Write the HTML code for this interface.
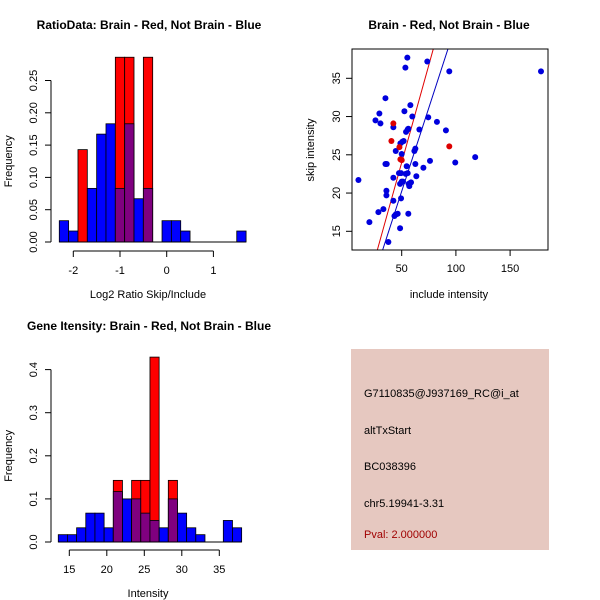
<!DOCTYPE html>
<html><head><meta charset="utf-8"><style>
body{margin:0;background:#fff}
svg{display:block;font-family:"Liberation Sans",sans-serif}
</style></head><body>
<svg id="c" width="600" height="600" viewBox="0 0 600 600" xmlns="http://www.w3.org/2000/svg">
<rect width="600" height="600" fill="#fff"/>
<text x="149" y="29" text-anchor="middle" font-weight="bold" font-size="12">RatioData: Brain - Red, Not Brain - Blue</text>
<text x="449" y="29" text-anchor="middle" font-weight="bold" font-size="12">Brain - Red, Not Brain - Blue</text>
<text x="149" y="330" text-anchor="middle" font-weight="bold" font-size="12">Gene Itensity: Brain - Red, Not Brain - Blue</text>
<g id="p1"></g>
<g id="p2"></g>
<g id="p3"></g>
<g>
<rect x="351" y="349" width="198" height="201" fill="#e6c8c0"/>
<text x="364" y="397" font-size="11">G7110835@J937169_RC@i_at</text>
<text x="364" y="434" font-size="11">altTxStart</text>
<text x="364" y="470" font-size="11">BC038396</text>
<text x="364" y="507" font-size="11">chr5.19941-3.31</text>
<text x="364" y="538" font-size="11" fill="#a00000">Pval: 2.000000</text>
</g>
</svg>
<script>
const NS="http://www.w3.org/2000/svg";
// ratio histogram data
const ratioBinStart=-2.3, ratioBinWidth=0.2;
const ratioBlue=[0.033,0.017,0,0.083,0.167,0.183,0.083,0.183,0.067,0.083,0,0.033,0.033,0.017,0,0,0,0,0,0.017];
const ratioRed=[0,0,0.143,0,0,0,0.286,0.286,0,0.286,0,0,0,0,0,0,0,0,0,0];
const ratioXTicks=[-2,-1,0,1];
const ratioYTicks=[0,0.05,0.10,0.15,0.20,0.25];
const ratioYLabels=["0.00","0.05","0.10","0.15","0.20","0.25"];
// intensity histogram data
const intBinStart=13.53, intBinWidth=1.2225;
const intBlue=[0.017,0.017,0.033,0.067,0.067,0.033,0.117,0.1,0.1,0.067,0.05,0.033,0.1,0.067,0.033,0.017,0,0,0.05,0.033];
const intRed=[0,0,0,0,0,0,0.143,0,0.143,0.143,0.429,0,0.143,0,0,0,0,0,0,0];
const intXTicks=[15,20,25,30,35];
const intYTicks=[0,0.1,0.2,0.3,0.4];
const intYLabels=["0.0","0.1","0.2","0.3","0.4"];
// scatter data
const blueX=[10.1,20.2,25.8,29.4,30.4,28.5,33.1,35,35,36.2,35.9,35.9,37.7,42.3,42.3,42.3,43.3,44.5,46.3,44.5,48.5,47.5,49.4,48.5,50,51.2,49.4,50,48.8,50.6,51.8,52.5,53.4,55.2,54,55.5,56.1,54.6,55.5,53.7,56.4,57.7,57,58.6,56.1,58,59.8,61.7,62.6,62.6,63.5,66.3,70,73.6,74.5,76.1,82.5,90.8,93.9,99.4,117.8,178.5];
const blueY=[21.7,16.2,29.5,30.4,29.1,17.5,17.9,32.4,23.8,23.8,20.3,19.7,13.6,28.6,22,19,17,17.2,17.3,25.5,15.4,22.6,22.6,21.2,21.5,21.5,19.3,25.1,26.5,26.7,26.8,30.7,36.4,37.7,28,28.3,28.4,23.5,22.6,22.5,21.2,21.3,20.9,21.4,17.3,31.5,30,25.5,25.8,23.8,22.2,28.3,23.3,37.2,29.9,24.2,29.3,28.2,35.9,24,24.7,35.9];
const redX=[42.3,40.5,47.9,48.8,50,93.9];
const redY=[29.1,26.8,26,24.4,24.3,26.1];
const redFit=[-1.45,0.509]; // intercept, slope
const blueFit=[-1.57,0.436];
const scXTicks=[50,100,150];
const scYTicks=[15,20,25,30,35];

function mk(tag,attrs,parent){const e=document.createElementNS(NS,tag);for(const k in attrs)e.setAttribute(k,attrs[k]);parent.appendChild(e);return e;}
function txt(parent,x,y,s,anchor,rot){const t=mk('text',{x:x,y:y,'font-size':11,'text-anchor':anchor||'middle'},parent);if(rot)t.setAttribute('transform','rotate(-90 '+x+' '+y+')');t.textContent=s;return t;}

function hist(g,o){
  const X=v=>o.x0+(v-o.xv0)*o.xs, Y=v=>o.y0-v*o.ys;
  for(let i=0;i<o.blue.length;i++){
    const a=o.start+i*o.w,b=a+o.w,r=o.red[i],bl=o.blue[i];
    if(r>0){const e=mk('rect',{x:X(a),y:Y(r),width:X(b)-X(a),height:Y(0)-Y(r),fill:'#ff0000',stroke:'#000','stroke-width':0.8},g);
      }
    if(bl>0){const e=mk('rect',{x:X(a),y:Y(bl),width:X(b)-X(a),height:Y(0)-Y(bl),fill:r>0?'#7f007f':'#0000ff',stroke:'#000','stroke-width':0.8},g);
      }
  }
  mk('line',{x1:X(o.start),x2:X(o.start+o.blue.length*o.w),y1:Y(0),y2:Y(0),stroke:'#000'},g);
  const ya=mk('g',{},g);
  mk('line',{x1:o.ax,x2:o.ax,y1:Y(o.yt[0]),y2:Y(o.yt[o.yt.length-1]),stroke:'#000'},ya);
  o.yt.forEach((v,i)=>{mk('line',{x1:o.ax-6,x2:o.ax,y1:Y(v),y2:Y(v),stroke:'#000'},ya);txt(ya,o.ax-14,Y(v),o.yl[i],'middle',true);});
  const xa=mk('g',{},g);
  mk('line',{x1:X(o.xt[0]),x2:X(o.xt[o.xt.length-1]),y1:o.ay,y2:o.ay,stroke:'#000'},xa);
  o.xt.forEach(v=>{mk('line',{x1:X(v),x2:X(v),y1:o.ay,y2:o.ay+6,stroke:'#000'},xa);txt(xa,X(v),o.ay+23,String(v));});
  const xt=txt(g,148,o.ay+47,o.xlab);
  const yt=txt(g,12,(o.y0+Y(o.yt[o.yt.length-1]))/2,'Frequency','middle',true);
}
hist(document.getElementById('p1'),{blue:ratioBlue,red:ratioRed,start:ratioBinStart,w:ratioBinWidth,x0:120,xv0:-1,xs:46.7,y0:242,ys:646,ax:51,ay:251,xt:ratioXTicks,yt:ratioYTicks,yl:ratioYLabels,xlab:'Log2 Ratio Skip/Include'});
hist(document.getElementById('p3'),{blue:intBlue,red:intRed,start:intBinStart,w:intBinWidth,x0:69.3,xv0:15,xs:7.5,y0:542,ys:431,ax:51,ay:550,xt:intXTicks,yt:intYTicks,yl:intYLabels,xlab:'Intensity'});

(function(){
  const g=document.getElementById('p2');
  const L=352,R=548,T=49,B=250;
  const X=v=>401.7+(v-50)*1.084, Y=v=>78.3-(v-35)*7.65;
  const cp=mk('clipPath',{id:'clp'},g);mk('rect',{x:L,y:T,width:R-L,height:B-T},cp);
  const fits=[[redFit,'#e00000','red-fit-line'],[blueFit,'#0000c0','blue-fit-line']];
  fits.forEach(f=>{const y1=12,y2=40;const x1=(y1-f[0][0])/f[0][1],x2=(y2-f[0][0])/f[0][1];
    const e=mk('line',{x1:X(x1),y1:Y(y1),x2:X(x2),y2:Y(y2),stroke:f[1],'stroke-width':1,'clip-path':'url(#clp)'},g);
    });
  blueX.forEach((v,i)=>{const e=mk('circle',{cx:X(v),cy:Y(blueY[i]),r:3,fill:'#0000dd'},g);
    });
  redX.forEach((v,i)=>{const e=mk('circle',{cx:X(v),cy:Y(redY[i]),r:3,fill:'#dd0000'},g);
    });
  mk('rect',{x:L,y:T,width:R-L,height:B-T,fill:'none',stroke:'#000'},g);
  const xa=mk('g',{},g);
  scXTicks.forEach(v=>{mk('line',{x1:X(v),x2:X(v),y1:B,y2:B+6,stroke:'#000'},xa);txt(xa,X(v),B+22,String(v));});
  const ya=mk('g',{},g);
  scYTicks.forEach(v=>{mk('line',{x1:L-6,x2:L,y1:Y(v),y2:Y(v),stroke:'#000'},ya);txt(ya,L-12,Y(v),String(v),'middle',true);});
  const xt=txt(g,449,298,'include intensity');
  const yt=txt(g,314,150,'skip intensity','middle',true);
})();
</script>
</body></html>
